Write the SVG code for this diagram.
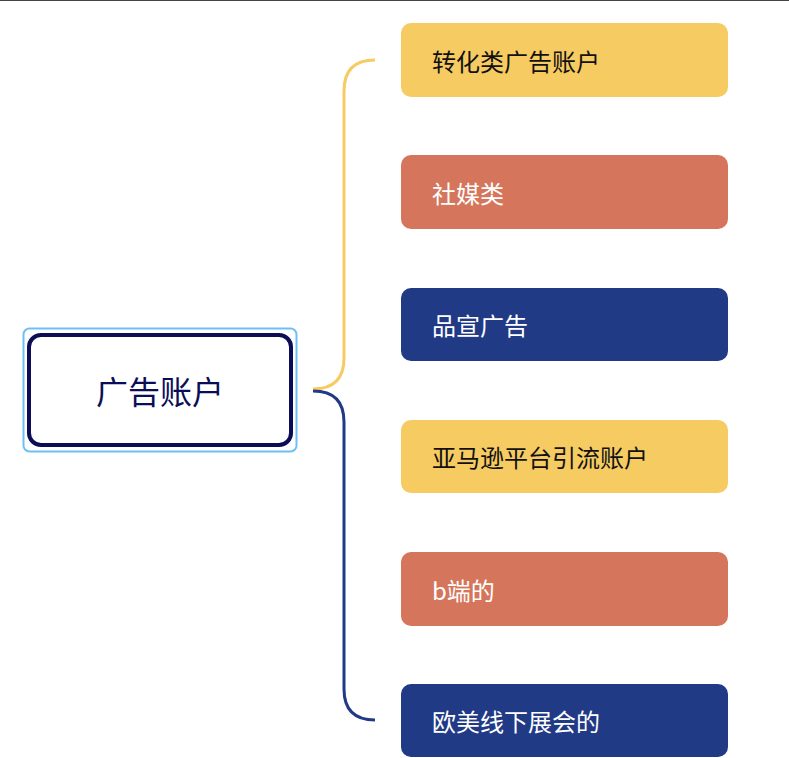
<svg xmlns="http://www.w3.org/2000/svg" width="789" height="758" viewBox="0 0 789 758">
<style>
text{font-family:"Noto Sans CJK SC","Noto Sans",sans-serif;font-size:24px;dominant-baseline:central}
.y{fill:#f6cb62}.o{fill:#d5765c}.b{fill:#213a86}
.dk{fill:#111}.lt{fill:#fff}
.c{fill:none;stroke-width:3}
</style>
<rect width="789" height="758" fill="#fff"/>
<line x1="0" y1="0.5" x2="789" y2="0.5" stroke="#444"/>
<g id="connectors">
<path class="c" stroke="#f6cb62" d="M313,389 Q344,389 344,358 L344,91 Q344,60 375,60"/>
<path class="c" stroke="#213a86" d="M313,391 Q344,391 344,422 L344,689 Q344,720 375,720"/>
</g>
<g id="root">
<rect x="23.5" y="328.5" width="273" height="123" rx="6" fill="none" stroke="#6cc0f5" stroke-width="2"/>
<rect x="29" y="335" width="262" height="110" rx="12" fill="#fff" stroke="#0b0e56" stroke-width="4"/>
<text x="160" y="390" text-anchor="middle" font-size="32" fill="#0b0e56" style="font-size:32px">广告账户</text>
</g>
<g id="n1"><rect class="y" x="401" y="23" width="327" height="74" rx="10"/><text class="dk" x="432" y="60">转化类广告账户</text></g>
<g id="n2"><rect class="o" x="401" y="155" width="327" height="74" rx="10"/><text class="lt" x="432" y="192">社媒类</text></g>
<g id="n3"><rect class="b" x="401" y="288" width="327" height="73" rx="10"/><text class="lt" x="432" y="324">品宣广告</text></g>
<g id="n4"><rect class="y" x="401" y="420" width="327" height="73" rx="10"/><text class="dk" x="432" y="456">亚马逊平台引流账户</text></g>
<g id="n5"><rect class="o" x="401" y="552" width="327" height="74" rx="10"/><text class="lt" x="432" y="589">b端的</text></g>
<g id="n6"><rect class="b" x="401" y="684" width="327" height="73" rx="10"/><text class="lt" x="432" y="720">欧美线下展会的</text></g>
</svg>
